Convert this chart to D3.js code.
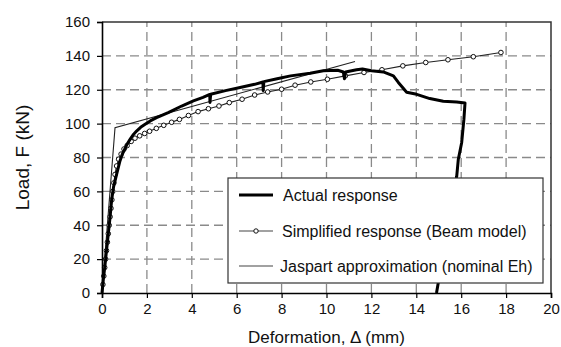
<!DOCTYPE html>
<html>
<head>
<meta charset="utf-8">
<script src="https://cdn.jsdelivr.net/npm/d3@7"></script>
<style>
  html, body { margin: 0; padding: 0; background: #fff; }
  svg { display: block; font-family: "Liberation Sans", Arial, Helvetica, sans-serif; }
</style>
</head>
<body>
<svg id="chart" width="561" height="347"></svg>
<script>
// ---------- data ----------
const xTicks = [0, 2, 4, 6, 8, 10, 12, 14, 16, 18, 20];
const yTicks = [0, 20, 40, 60, 80, 100, 120, 140, 160];

const actualX = [0, 0.06, 0.13, 0.2, 0.28, 0.36, 0.43, 0.52, 0.65, 0.8, 0.9, 1.02, 1.12, 1.25, 1.38, 1.54, 1.72, 1.92, 2.15, 2.43, 2.95, 3.55, 4.07, 4.5, 4.8, 4.81, 4.84, 5.5, 6.2, 6.8, 7.17, 7.18, 7.21, 7.8, 8.4, 9.27, 9.86, 10.5, 10.75, 10.8, 10.85, 11.34, 11.6, 12.0, 12.53, 12.98, 13.2, 13.57, 14.02, 14.6, 15.2, 15.8, 16.17, 16.12, 16.02, 15.87, 15.8, 14.9];
const actualY = [0, 8, 16, 25, 35, 45, 55, 63, 70, 78, 81.8, 85, 88, 90.7, 93.3, 95.6, 97.8, 99.6, 101.6, 103.5, 106.5, 110.4, 113.4, 115.5, 117.2, 112.5, 117.3, 119.5, 121.5, 123.2, 124.6, 119.5, 124.8, 126.5, 128.2, 129.8, 131.2, 131.5, 130.5, 126.5, 130.5, 131.8, 132.3, 131.2, 130.5, 128.2, 124.3, 118.5, 117.3, 114.8, 113.2, 112.8, 112.2, 102.5, 88.7, 78.8, 68.9, 0];

const simpX = [0, 0.04, 0.08, 0.12, 0.16, 0.2, 0.24, 0.28, 0.32, 0.36, 0.4, 0.44, 0.48, 0.53, 0.58, 0.65, 0.74, 0.85, 0.98, 1.12, 1.3, 1.47, 1.68, 1.9, 2.12, 2.42, 2.75, 3.1, 3.45, 3.85, 4.28, 4.74, 5.21, 5.67, 6.24, 6.8, 7.38, 8.0, 8.6, 9.3, 10.04, 10.84, 11.67, 12.47, 13.4, 14.42, 15.41, 16.54, 17.77];
const simpY = [0, 5, 10, 15, 20, 25, 30, 35, 40, 45, 50, 55, 60, 65, 70, 75, 79, 82, 85, 87, 89.5, 91.4, 92.8, 94.2, 95.5, 97.2, 99, 100.8, 102.5, 104.8, 107.1, 108.8, 110.4, 112.4, 114.4, 116.9, 118.7, 120.3, 122.7, 124.6, 126.2, 128.2, 130.2, 131.8, 134.1, 136.1, 137.7, 139.5, 142.0];

const jaspartX = [0, 0.58, 11.27];
const jaspartY = [0, 97.6, 136.7];

const legendLabels = ["Actual response", "Simplified response (Beam model)", "Jaspart approximation (nominal Eh)"];

// ---------- layout ----------
const svg = d3.select("#chart");
const L = 102, R = 551, T = 22, B = 293;
const x = d3.scaleLinear().domain([0, 20]).range([L, R]);
const y = d3.scaleLinear().domain([0, 160]).range([B, T]);

// grid
const grid = svg.append("g").attr("stroke", "#8a8a8a").attr("stroke-width", 1.3).attr("stroke-dasharray", "9,5");
grid.selectAll("line.v").data(xTicks.filter(d => d > 0 && d < 20)).join("line")
  .attr("x1", d => x(d)).attr("x2", d => x(d)).attr("y1", B).attr("y2", T);
grid.selectAll("line.h").data(yTicks.filter(d => d > 0 && d < 160)).join("line")
  .attr("x1", L).attr("x2", R).attr("y1", d => y(d)).attr("y2", d => y(d));

// frame top/right
svg.append("path").attr("d", `M${L},${T}H${R}V${B}`).attr("fill", "none").attr("stroke", "#333").attr("stroke-width", 1.5);

// data lines
const line = d3.line().x(d => x(d[0])).y(d => y(d[1]));
const actual = actualX.map((v, i) => [v, actualY[i]]);
const simp = simpX.map((v, i) => [v, simpY[i]]);
const jas = jaspartX.map((v, i) => [v, jaspartY[i]]);

svg.append("path").datum(jas).attr("d", line).attr("fill", "none").attr("stroke", "#222").attr("stroke-width", 1.1);
svg.append("path").datum(simp).attr("d", line).attr("fill", "none").attr("stroke", "#222").attr("stroke-width", 1.1);
svg.append("g").selectAll("circle").data(simp.slice(1)).join("circle")
  .attr("cx", d => x(d[0])).attr("cy", d => y(d[1])).attr("r", 2.3)
  .attr("fill", "#fff").attr("stroke", "#111").attr("stroke-width", 1);
svg.append("path").datum(actual).attr("d", line).attr("fill", "none").attr("stroke", "#000").attr("stroke-width", 3).attr("stroke-linejoin", "round");

// axes
const xAxis = svg.append("g").attr("transform", `translate(0,${B})`)
  .call(d3.axisBottom(x).tickValues(xTicks).tickSize(5).tickPadding(5).tickFormat(d3.format("d")));
const yAxis = svg.append("g").attr("transform", `translate(${L},0)`)
  .call(d3.axisLeft(y).tickValues(yTicks).tickSize(5).tickPadding(7).tickFormat(d3.format("d")));
[xAxis, yAxis].forEach(a => {
  a.select(".domain").attr("stroke", "#000").attr("stroke-width", 1.6);
  a.selectAll(".tick line").attr("stroke", "#000").attr("stroke-width", 1.2);
  a.selectAll(".tick text").attr("font-size", 15).attr("fill", "#111").attr("font-family", "Liberation Sans, Arial, sans-serif");
});

// axis titles
svg.append("text").attr("x", (L + R) / 2).attr("y", 343).attr("text-anchor", "middle")
  .attr("font-size", 17).attr("fill", "#111").text("Deformation, Δ (mm)");
svg.append("text").attr("transform", `translate(29,${(T + B) / 2}) rotate(-90)`).attr("text-anchor", "middle")
  .attr("font-size", 19).attr("fill", "#111").text("Load, F (kN)");

// legend
const lg = svg.append("g");
lg.append("rect").attr("x", 228).attr("y", 178).attr("width", 315).attr("height", 105)
  .attr("fill", "#fff").attr("stroke", "#333").attr("stroke-width", 1.2);
const rows = [195, 231, 266];
lg.append("line").attr("x1", 239).attr("x2", 273).attr("y1", rows[0]).attr("y2", rows[0]).attr("stroke", "#000").attr("stroke-width", 3);
lg.append("line").attr("x1", 239).attr("x2", 273).attr("y1", rows[1]).attr("y2", rows[1]).attr("stroke", "#444").attr("stroke-width", 1.2);
lg.append("circle").attr("cx", 256).attr("cy", rows[1]).attr("r", 2.2).attr("fill", "#fff").attr("stroke", "#111").attr("stroke-width", 1);
lg.append("line").attr("x1", 239).attr("x2", 273).attr("y1", rows[2]).attr("y2", rows[2]).attr("stroke", "#444").attr("stroke-width", 1.2);
const textX = [283, 282, 280];
legendLabels.forEach((t, i) => {
  lg.append("text").attr("x", textX[i]).attr("y", rows[i] + 5.5).attr("font-size", 16).attr("fill", "#111").text(t);
});
</script>
</body>
</html>
